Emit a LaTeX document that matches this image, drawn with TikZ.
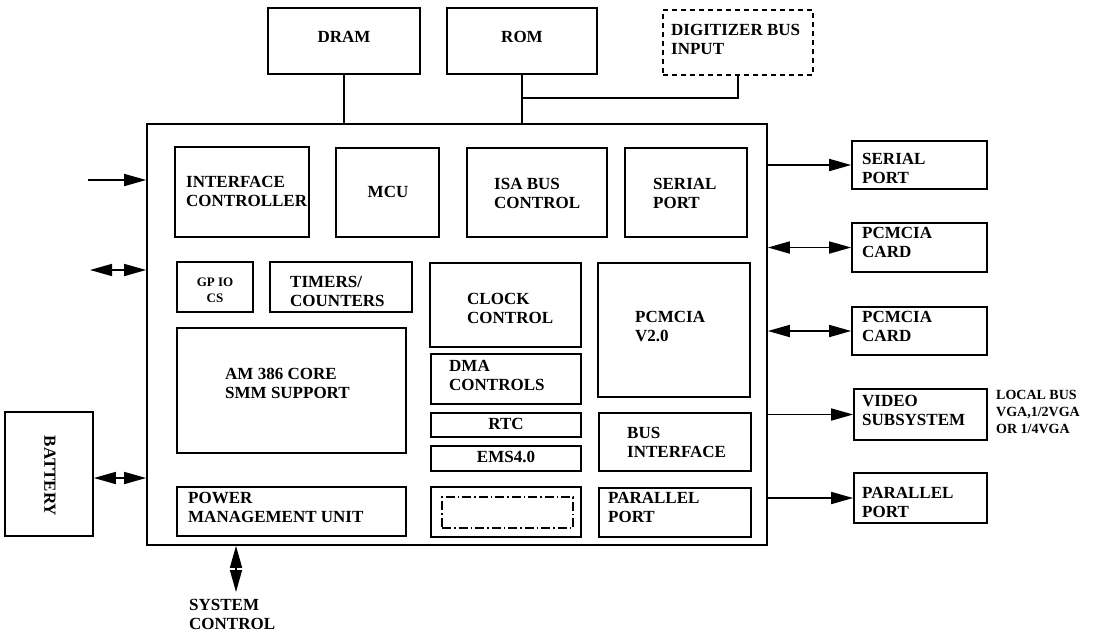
\documentclass[tikz,border=0pt]{standalone}
\usepackage{fontspec}
\setmainfont{Liberation Serif}
\usetikzlibrary{arrows.meta,fit,positioning}
\newcommand\mkbox[6][]{\node[box,#1,fit={(#3,#4) (#5,#6)}] (#2) {};}
\tikzset{
  box/.style={draw, line width=1.7pt, inner sep=0pt},
  lbl/.style={font=\fontsize{17}{19}\selectfont\bfseries, align=left, inner sep=0pt, anchor=west},
  clbl/.style={font=\fontsize{17}{19}\selectfont\bfseries, align=center, inner sep=0pt},
  slbl/.style={font=\fontsize{13}{16}\selectfont\bfseries, align=center, inner sep=0pt},
  nlbl/.style={font=\fontsize{14}{17}\selectfont\bfseries, align=left, inner sep=0pt, anchor=west},
  wire/.style={line width=1.7pt},
  arr/.style={line width=1.7pt, -{Triangle[length=22pt,width=12pt]}},
  darr/.style={line width=1.7pt, {Triangle[length=22pt,width=12pt]}-{Triangle[length=22pt,width=12pt]}},
  dashbox/.style={draw, line width=1.6pt, inner sep=0pt, dash pattern=on 5pt off 4pt},
  dotbox/.style={draw, line width=1.4pt, inner sep=0pt, dash pattern=on 9pt off 3pt on 1.5pt off 3pt},
}
\begin{document}
\begin{tikzpicture}[x=1pt,y=-1pt]
\useasboundingbox (0,0) rectangle (1101,632);
% top
\mkbox{dram}{268}{8}{420}{74}
\node[clbl] (t-dram) at (344,37) {DRAM};
\mkbox{rom}{447}{8}{597}{74}
\node[clbl] (t-rom) at (522,37) {ROM};
\mkbox[dashbox]{dig}{663}{10}{813}{75}
\node[lbl] (t-dig) at (671,39) {DIGITIZER BUS\\INPUT};
% main
\mkbox{main}{147}{124}{767}{545}
\draw[wire] (dram.south) -- (dram.south |- main.north);
\coordinate (j) at (522,98);
\draw[wire] (rom.south) -- (rom.south |- main.north);
\draw[wire] (dig.south) |- (j);
% inner row 1
\mkbox{ifc}{175}{147}{309}{237}
\node[lbl] (t-ifc) at (186,191) {INTERFACE\\CONTROLLER};
\mkbox{mcu}{336}{148}{439}{237}
\node[clbl] (t-mcu) at (388,192) {MCU};
\mkbox{isa}{467}{148}{607}{237}
\node[lbl] (t-isa) at (494,193) {ISA BUS\\CONTROL};
\mkbox{ser}{625}{148}{747}{237}
\node[lbl] (t-ser) at (653,193) {SERIAL\\PORT};
% left column
\mkbox{gpio}{177}{262}{253}{312}
\node[slbl] (t-gpio) at (215,290) {GP IO\\CS};
\mkbox{tim}{270}{262}{412}{312}
\node[lbl] (t-tim) at (290,291) {TIMERS/\\COUNTERS};
\mkbox{core}{177}{328}{406}{453}
\node[lbl] (t-core) at (225,383) {AM 386 CORE\\SMM SUPPORT};
\mkbox{pmu}{177}{487}{406}{536}
\node[lbl] (t-pmu) at (188,507) {POWER\\MANAGEMENT UNIT};
% middle column
\mkbox{clk}{430}{263}{581}{347}
\node[lbl] (t-clk) at (467,308) {CLOCK\\CONTROL};
\mkbox{dma}{431}{354}{581}{404}
\node[lbl] (t-dma) at (449,375) {DMA\\CONTROLS};
\mkbox{rtc}{431}{413}{581}{437}
\node[clbl] (t-rtc) at (506,424) {RTC};
\mkbox{ems}{431}{446}{581}{471}
\node[clbl] (t-ems) at (506,457) {EMS4.0};
\mkbox{blank}{431}{487}{581}{537}
\mkbox[dotbox]{blankin}{442}{497}{573}{528}
% right column
\mkbox{pcm}{598}{263}{750}{397}
\node[lbl] (t-pcm) at (635,326) {PCMCIA\\V2.0};
\mkbox{bus}{599}{413}{751}{471}
\node[lbl] (t-bus) at (627,442) {BUS\\INTERFACE};
\mkbox{par}{599}{488}{751}{537}
\node[lbl] (t-par) at (608,507) {PARALLEL\\PORT};
% external right
\mkbox{eser}{852}{141}{987}{189}
\node[lbl] (t-eser) at (862,168) {SERIAL\\PORT};
\mkbox{ecard1}{852}{223}{987}{272}
\node[lbl] (t-ecard1) at (862,242) {PCMCIA\\CARD};
\mkbox{ecard2}{852}{307}{987}{355}
\node[lbl] (t-ecard2) at (862,326) {PCMCIA\\CARD};
\mkbox{evid}{854}{389}{987}{440}
\node[lbl] (t-evid) at (862,410) {VIDEO\\SUBSYSTEM};
\node[nlbl] (t-vga) at (996,412) {LOCAL BUS\\VGA,1/2VGA\\OR 1/4VGA};
\mkbox{epar}{854}{473}{987}{523}
\node[lbl] (t-epar) at (862,502) {PARALLEL\\PORT};
\draw[arr] (main.east |- eser.west) -- (eser.west);
\draw[darr] (main.east |- ecard1.west) -- (ecard1.west);
\draw[darr] (main.east |- ecard2.west) -- (ecard2.west);
\draw[arr] (main.east |- evid.west) -- (evid.west);
\draw[arr] (main.east |- epar.west) -- (epar.west);
% left side
\coordinate (in0) at (88,180);
\draw[arr] (in0) -- (in0 -| main.west);
\coordinate (io0) at (90,270);
\draw[darr] (io0) -- (io0 -| main.west);
\mkbox{bat}{5}{412}{93}{536}
\node[clbl, rotate=-90] (t-bat) at (50,476) {BATTERY};
\draw[darr] ([yshift=-4pt]bat.east) -- ([yshift=-4pt]bat.east -| main.west);
% system control
\coordinate (sc) at (236,592);
\draw[darr] (sc |- main.south) -- (sc);
\node[lbl] (t-sc) at (189,614) {SYSTEM\\CONTROL};
\end{tikzpicture}
\end{document}
